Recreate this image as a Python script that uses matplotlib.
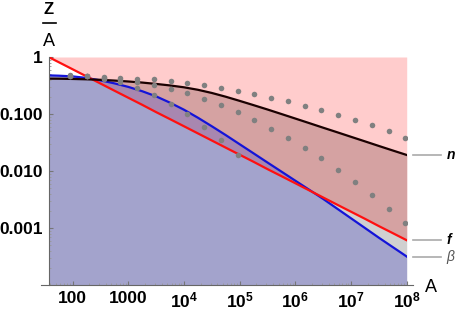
import matplotlib
matplotlib.use('Agg')
import matplotlib.pyplot as plt
import numpy as np
from matplotlib.lines import Line2D
from matplotlib.transforms import blended_transform_factory

plt.rcParams['font.family'] = 'Liberation Sans'
plt.rcParams['mathtext.fontset'] = 'custom'
plt.rcParams['mathtext.rm'] = 'Liberation Sans:bold'
plt.rcParams['mathtext.bf'] = 'Liberation Sans:bold'
plt.rcParams['mathtext.it'] = 'Liberation Sans:bold:italic'

# curves at quarter decades
A = np.array([37, 56.2, 100, 178, 316, 562, 1000, 1780, 3160, 5620, 1e4, 1.78e4, 3.16e4, 5.62e4,
              1e5, 1.78e5, 3.16e5, 5.62e5, 1e6, 1.78e6, 3.16e6, 5.62e6, 1e7, 1.78e7, 3.16e7, 5.62e7, 1e8])
f_vals = np.array([1.0, 0.813, 0.610, 0.457, 0.343, 0.257, 0.193, 0.145, 0.108, 0.0813,
                   0.0610, 0.0457, 0.0343, 0.0257, 0.0193, 0.0145, 0.0108, 0.00813,
                   0.00610, 0.00457, 0.00343, 0.00257, 0.00193, 0.00145, 0.00108, 0.000813, 0.000610])
n_vals = np.array([0.417, 0.416, 0.412, 0.406, 0.398, 0.386, 0.372, 0.356, 0.337, 0.317,
                   0.294, 0.266, 0.234, 0.201, 0.170, 0.143, 0.120, 0.100,
                   0.0832, 0.0692, 0.0575, 0.0479, 0.0398, 0.0331, 0.0275, 0.0229, 0.0191])
beta_vals = np.array([0.476, 0.470, 0.457, 0.429, 0.389, 0.345, 0.299, 0.251, 0.204, 0.158,
                      0.119, 0.0861, 0.0610, 0.0427, 0.0295, 0.0204, 0.0141, 0.00977,
                      0.00676, 0.00468, 0.00324, 0.00219, 0.00148, 0.00100, 0.000676, 0.000462, 0.000316])

# gray dots
dots_A = np.array([90, 180, 360, 720, 1440, 2880, 5760, 11500, 23000, 46100, 92200,
                   184000, 369000, 737000, 1.47e6, 2.95e6, 5.9e6, 1.18e7, 2.36e7, 4.72e7, 9.44e7])
dots_top = np.array([0.477, 0.472, 0.453, 0.431, 0.418, 0.41, 0.386, 0.352, 0.319, 0.288, 0.255,
                     0.224, 0.192, 0.166, 0.140, 0.117, 0.0957, 0.0783, 0.0633, 0.0497, 0.0386])
dots_mid = np.array([0.472, 0.462, 0.435, 0.402, 0.363, 0.329, 0.277, 0.229, 0.185, 0.143, 0.108,
                     0.0783, 0.0554, 0.0380, 0.0258, 0.0166, 0.0105, 0.00633, 0.00380, 0.00216, 0.00122])
dots_low = np.array([0.472, 0.462, 0.418, 0.363, 0.288, 0.214, 0.151, 0.0984, 0.060, 0.0351, 0.0190])

xticks = [100, 1000, 1e4, 1e5, 1e6, 1e7, 1e8]
xlabels = ['100', '1000', '$10^{4}$', '$10^{5}$', '$10^{6}$', '$10^{7}$', '$10^{8}$']
yticks = [0.001, 0.01, 0.1, 1]
ylabels = ['0.001', '0.010', '0.100', '1']

fig = plt.figure(figsize=(4.57, 3.09), dpi=100)
ax = fig.add_axes([48.5/457, 24/309, 358.2/457, 228/309])
ax.set_xscale('log')
ax.set_yscale('log')
ymin = 1e-4

# fills, painted in order
ax.fill_between(A, f_vals, 1, color='#FFCCCC', lw=0)
ax.fill_between(A, f_vals, n_vals, where=n_vals >= f_vals, interpolate=True, color='#D5A2A2', lw=0)
low_top = np.minimum(f_vals, n_vals)
ax.fill_between(A, beta_vals, low_top, where=low_top >= beta_vals, interpolate=True, color='#D0D0D0', lw=0)
ax.fill_between(A, ymin, beta_vals, color='#A3A3CC', lw=0)
ax.fill_between(A, f_vals, np.minimum(beta_vals, n_vals), where=beta_vals >= f_vals, interpolate=True,
                color='#A887B0', lw=0)

ax.plot(A, beta_vals, color='#1414D8', lw=1.6)
ax.plot(A, f_vals, color='#FF1010', lw=1.6)
ax.plot(A, n_vals, color='#1A0000', lw=1.6)

for d in [dots_top, dots_mid]:
    ax.plot(dots_A, d, 'o', color='#808080', ms=4.0, mec='none')
ax.plot(dots_A[:len(dots_low)], dots_low, 'o', color='#808080', ms=4.0, mec='none')

ax.set_xlim(37, 1e8)
ax.set_ylim(ymin, 1)
ax.set_xticks(xticks)
ax.set_xticklabels(xlabels)
ax.set_yticks(yticks)
ax.set_yticklabels(ylabels)
for lab in ax.get_xticklabels() + ax.get_yticklabels():
    lab.set_fontweight('bold')
    lab.set_fontsize(12.5)
ax.tick_params(which='major', direction='in', length=3, color='#777777', pad=4)
ax.tick_params(which='minor', direction='in', length=1.5, color='#999999')

for s in ['top', 'right', 'bottom']:
    ax.spines[s].set_visible(False)
ax.spines['left'].set_color('#666666')
ax.spines['left'].set_linewidth(0.8)
ax.plot([-0.02, 1.018], [0, 0], color='#666666', lw=0.8, transform=ax.transAxes, clip_on=False)

# labels at the right end
trans = blended_transform_factory(ax.transAxes, ax.transData)
for val, txt, st, w, c in [(n_vals[-1], 'n', 'italic', 'bold', 'black'),
                           (f_vals[-1], 'f', 'italic', 'bold', 'black'),
                           (beta_vals[-1], 'β', 'italic', 'normal', '#555555')]:
    ax.plot([1.018, 1.096], [val, val], color='#AAAAAA', lw=1.2, transform=trans, clip_on=False)
    ax.text(1.112, val, txt, transform=trans, fontsize=10, style=st, fontweight=w, color=c,
            va='center', ha='left')

fig.text(431/457, 1 - 287/309, 'A', fontsize=13, ha='center', va='center')
fig.text(49/457, 1 - 10/309, 'Z', fontsize=12, fontweight='bold', ha='center', va='center')
fig.add_artist(Line2D([43/457, 56/457], [1 - 23/309, 1 - 23/309], color='black', lw=1.2))
fig.text(49/457, 1 - 41/309, 'A', fontsize=13, ha='center', va='center')

fig.savefig('out.png', dpi=100)
